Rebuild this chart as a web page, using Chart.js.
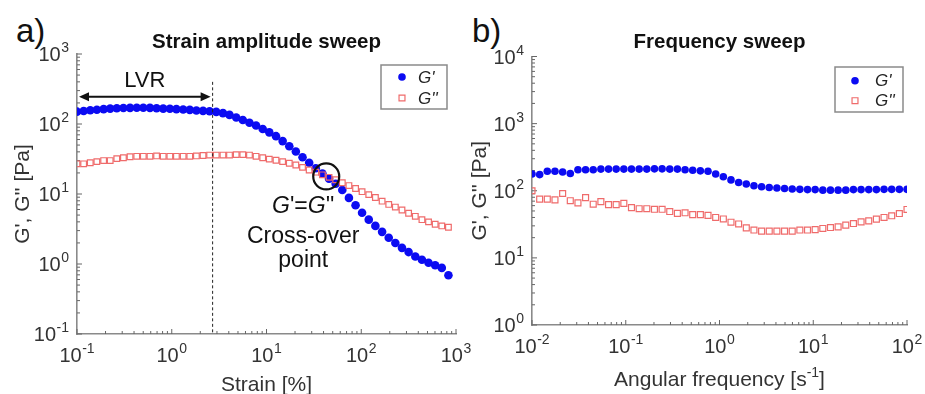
<!DOCTYPE html>
<html><head><meta charset="utf-8">
<script src="https://cdn.jsdelivr.net/npm/chart.js@4.4.1/dist/chart.umd.min.js"></script>
<style>
html,body{margin:0;padding:0;background:#fff;}
body{width:925px;height:394px;position:relative;overflow:hidden;font-family:"Liberation Sans",Arial,Helvetica,sans-serif;}
canvas{position:absolute;top:0;}
#cA{left:0;} #cB{left:460px;}
.pl{position:absolute;font-size:33px;line-height:33px;color:#111;}
</style></head><body>
<div class="pl" style="left:16px;top:14px">a)</div>
<div class="pl" style="left:472px;top:14px">b)</div>
<canvas id="cA" width="480" height="394"></canvas>
<canvas id="cB" width="465" height="394"></canvas>
<script>
const FONT = '"Liberation Sans", Arial, Helvetica, sans-serif';

// ---- Strain amplitude sweep ----
const strainX = [0.1, 0.1175, 0.138, 0.162, 0.191, 0.224, 0.263, 0.309, 0.363, 0.427, 0.501, 0.589, 0.692, 0.813, 0.955,
  1.12, 1.32, 1.55, 1.82, 2.14, 2.51, 2.95, 3.47, 4.07, 4.79, 5.62, 6.61, 7.76, 9.12, 10.7, 12.6, 14.8, 17.4, 20.4, 24.0,
  28.2, 33.1, 38.9, 45.7, 53.7, 63.1, 74.1, 87.1, 102, 120, 141, 166, 195, 229, 269, 316, 372, 437, 513, 603, 708, 832];
const strainGp = [150, 153, 157, 160, 163, 166, 168, 169, 170, 171, 171, 170, 168, 166, 165, 163, 161, 159, 156, 154,
  152, 149, 143, 135, 124, 114, 104, 95, 85, 76, 67, 57, 48, 40.5, 33.5, 28, 23.3, 19.6, 16.5, 14.0, 11.4, 8.8, 6.9,
  5.4, 4.3, 3.5, 2.88, 2.37, 2.0, 1.7, 1.48, 1.28, 1.15, 1.04, 0.96, 0.88, 0.69];
const strainGpp = [27, 27, 28, 29, 30, 30, 32, 33, 34, 34.5, 34.5, 34.5, 35, 34.5, 34.5, 34.5, 34.5, 34.5, 35, 35.5,
  36, 36, 36, 36, 36.5, 36.5, 36, 34.5, 33, 31.5, 30.3, 29, 27.5, 26, 24, 22, 20.5, 18.8, 17.3, 16, 14.5, 13.2, 12,
  10.8, 9.8, 8.9, 7.9, 7.1, 6.5, 5.9, 5.3, 4.8, 4.3, 4.0, 3.7, 3.5, 3.35];

// ---- Frequency sweep ----
const freqX = [0.01, 0.01207, 0.01456, 0.01758, 0.02122, 0.02561, 0.03091, 0.03728, 0.04498, 0.05429, 0.06551, 0.07906,
  0.09541, 0.1151, 0.1390, 0.1677, 0.2024, 0.2442, 0.2947, 0.3556, 0.4292, 0.5179, 0.6251, 0.7543, 0.9103, 1.099,
  1.326, 1.600, 1.931, 2.330, 2.812, 3.393, 4.095, 4.942, 5.964, 7.197, 8.685, 10.48, 12.65, 15.26, 18.42, 22.23,
  26.83, 32.37, 39.07, 47.15, 56.90, 68.66, 82.86, 100];
const freqGp = [178, 174, 195, 195, 190, 181, 205, 205, 205, 210, 210, 210, 210, 210, 210, 210, 212, 212, 210, 210,
  205, 202, 198, 195, 178, 162, 145, 133, 126, 119, 115, 112, 110, 108, 106, 105, 104, 104, 102, 102, 102, 102, 104,
  104, 104, 104, 105, 105, 105, 105];
const freqGpp = [100, 75, 75, 73, 91, 71, 66, 79, 63, 69, 62, 62, 65, 56, 54, 54, 53, 53, 49, 46, 47, 44, 44, 43, 40,
  38, 34, 32, 28, 26, 25, 25, 25, 25, 25, 26, 26, 26.4, 27.4, 28.3, 29, 30.7, 32.5, 34.4, 35.6, 37.8, 40, 42.4, 45.8, 52.6];

const seriesLabels = ["G'", "G''"];

// ---- Tick labels: base 10 with these exponents ----
const strainXTicks = [0.1, 1, 10, 100, 1000];
const strainXTickExps = ['-1', '0', '1', '2', '3'];
const strainYTicks = [0.1, 1, 10, 100, 1000];
const strainYTickExps = ['-1', '0', '1', '2', '3'];
const freqXTicks = [0.01, 0.1, 1, 10, 100];
const freqXTickExps = ['-2', '-1', '0', '1', '2'];
const freqYTicks = [1, 10, 100, 1000, 10000];
const freqYTickExps = ['0', '1', '2', '3', '4'];

// ---- Annotations (data coordinates) ----
const lvrLimit = 2.7;
const lvrArrowY = 245;
const lvrLineTop = 400;
const crossover = {x: 42.7, y: 17.8};

const BLUE = '#0b0bf2';
const PINK = '#ef6b6b';

function pts(xs, ys) { return xs.map((x, i) => ({x: x, y: ys[i]})); }
function logAxis(min, max, o) {
  return {
    type: 'logarithmic', min: min, max: max, position: o.position,
    grid: {display: false},
    border: {display: true, color: '#8a8a8a', width: 1.6},
    ticks: {display: false},
    title: {display: !!o.title, text: o.title || '', color: '#333', font: {family: FONT, size: 21, lineHeight: 1.2}, padding: o.titlePad || 0},
    afterFit: function (s) { if (o.position === 'left') s.width = o.size; else s.height = o.size; }
  };
}

const minorTicks = {
  id: 'minorTicks',
  beforeDatasetsDraw(chart) {
    const ctx = chart.ctx, ca = chart.chartArea;
    ctx.save(); ctx.strokeStyle = '#666'; ctx.lineWidth = 1;
    ['x', 'y'].forEach(id => {
      const s = chart.scales[id];
      const e0 = Math.round(Math.log10(s.min)), e1 = Math.round(Math.log10(s.max));
      for (let e = e0; e <= e1; e++) {
        for (let m = 1; m <= 9; m++) {
          const v = m * Math.pow(10, e);
          if (v > s.max * 1.0001) break;
          const p = s.getPixelForValue(v);
          const len = m === 1 ? 5 : 3;
          ctx.beginPath();
          if (id === 'x') { ctx.moveTo(p, ca.bottom); ctx.lineTo(p, ca.bottom - len); }
          else { ctx.moveTo(ca.left, p); ctx.lineTo(ca.left + len, p); }
          ctx.stroke();
        }
      }
    });
    ctx.restore();
  }
};

function drawPow(ctx, exp, x, y, align) {
  ctx.font = '20px ' + FONT; const wb = ctx.measureText('10').width;
  ctx.font = '14px ' + FONT; const we = ctx.measureText(exp).width;
  const w = wb + we + 0.5;
  const left = align === 'center' ? x - w / 2 : x - w;
  ctx.font = '20px ' + FONT; ctx.fillText('10', left, y);
  ctx.font = '14px ' + FONT; ctx.fillText(exp, left + wb + 0.5, y - 9);
}

const tickLabels = {
  id: 'tickLabels',
  afterDraw(chart, args, o) {
    const ctx = chart.ctx, ca = chart.chartArea;
    ctx.save(); ctx.fillStyle = '#333'; ctx.textBaseline = 'alphabetic'; ctx.textAlign = 'left';
    o.xValues.forEach((v, i) => drawPow(ctx, o.xExps[i], chart.scales.x.getPixelForValue(v), ca.bottom + 28, 'center'));
    o.yValues.forEach((v, i) => drawPow(ctx, o.yExps[i], ca.left - 8, chart.scales.y.getPixelForValue(v) + 7, 'right'));
    if (o.xTitleParts) {
      let w = 0;
      o.xTitleParts.forEach(p => { ctx.font = (p[1] ? '14px ' : '21px ') + FONT; w += ctx.measureText(p[0]).width; });
      let x = (ca.left + ca.right) / 2 - w / 2;
      o.xTitleParts.forEach(p => {
        ctx.font = (p[1] ? '14px ' : '21px ') + FONT;
        ctx.fillText(p[0], x, ca.bottom + o.xTitleBase - (p[1] ? 9 : 0));
        x += ctx.measureText(p[0]).width;
      });
    }
    ctx.restore();
  }
};

const boxLegend = {
  id: 'boxLegend',
  afterDraw(chart, args, o) {
    const ctx = chart.ctx, ca = chart.chartArea;
    const x0 = ca.right - o.right - o.w, y0 = ca.top + o.top;
    ctx.save();
    ctx.fillStyle = '#fff'; ctx.fillRect(x0, y0, o.w, o.h);
    ctx.strokeStyle = '#8a8a8a'; ctx.lineWidth = 1.5; ctx.strokeRect(x0, y0, o.w, o.h);
    chart.data.datasets.forEach((ds, i) => {
      const my = y0 + o.row0 + i * o.rowGap, mx = x0 + o.mx;
      ctx.beginPath();
      if (ds.pointStyle === 'circle') {
        ctx.arc(mx, my, o.r, 0, 2 * Math.PI); ctx.fillStyle = ds.backgroundColor; ctx.fill();
      } else {
        const h = o.r * 0.78; ctx.rect(mx - h, my - h, 2 * h, 2 * h);
        ctx.strokeStyle = ds.borderColor; ctx.lineWidth = ds.borderWidth; ctx.stroke();
      }
      ctx.fillStyle = '#222'; ctx.font = 'italic 17px ' + FONT;
      ctx.textBaseline = 'middle'; ctx.textAlign = 'left';
      ctx.fillText(ds.label, x0 + o.tx, my + 1);
    });
    ctx.restore();
  }
};

function drawMixed(ctx, parts, cx, y, size) {
  let w = 0;
  parts.forEach(p => { ctx.font = (p[1] ? 'italic ' : '') + size + 'px ' + FONT; w += ctx.measureText(p[0]).width; });
  let x = cx - w / 2;
  parts.forEach(p => {
    ctx.font = (p[1] ? 'italic ' : '') + size + 'px ' + FONT;
    ctx.fillText(p[0], x, y); x += ctx.measureText(p[0]).width;
  });
}

const strainNotes = {
  id: 'strainNotes',
  afterDatasetsDraw(chart) {
    const ctx = chart.ctx, xs = chart.scales.x, ys = chart.scales.y;
    const xl = xs.getPixelForValue(lvrLimit);
    ctx.save();
    ctx.strokeStyle = '#222'; ctx.lineWidth = 1; ctx.setLineDash([3, 2.5]);
    ctx.beginPath(); ctx.moveTo(xl, ys.getPixelForValue(lvrLineTop)); ctx.lineTo(xl, ys.bottom); ctx.stroke();
    ctx.setLineDash([]);
    const ay = ys.getPixelForValue(lvrArrowY);
    const x0 = xs.getPixelForValue(strainX[0]) + 2, x1 = xl - 2;
    ctx.strokeStyle = '#111'; ctx.fillStyle = '#111'; ctx.lineWidth = 2;
    ctx.beginPath(); ctx.moveTo(x0 + 6, ay); ctx.lineTo(x1 - 6, ay); ctx.stroke();
    ctx.beginPath(); ctx.moveTo(x0, ay); ctx.lineTo(x0 + 10, ay - 4.5); ctx.lineTo(x0 + 10, ay + 4.5); ctx.closePath(); ctx.fill();
    ctx.beginPath(); ctx.moveTo(x1, ay); ctx.lineTo(x1 - 10, ay - 4.5); ctx.lineTo(x1 - 10, ay + 4.5); ctx.closePath(); ctx.fill();
    ctx.font = '22px ' + FONT; ctx.textAlign = 'center'; ctx.textBaseline = 'alphabetic';
    ctx.fillText('LVR', xs.getPixelForValue(Math.sqrt(strainX[0] * lvrLimit)), ay - 10);
    const cx = xs.getPixelForValue(crossover.x), cy = ys.getPixelForValue(crossover.y);
    ctx.lineWidth = 2.2; ctx.strokeStyle = '#111';
    ctx.beginPath(); ctx.arc(cx, cy, 13, 0, 2 * Math.PI); ctx.stroke();
    ctx.textAlign = 'left';
    drawMixed(ctx, [['G', true], ["'=", false], ['G', true], ["''", false]], cx - 23, cy + 37, 23);
    ctx.textAlign = 'center'; ctx.font = '23px ' + FONT;
    ctx.fillText('Cross-over', cx - 23, cy + 67);
    ctx.fillText('point', cx - 23, cy + 91);
    ctx.restore();
  }
};

const titleFont = {family: FONT, size: 20.5, weight: 'bold', lineHeight: 1.2};

new Chart(document.getElementById('cA'), {
  type: 'scatter',
  data: {datasets: [
    {label: seriesLabels[0], data: pts(strainX, strainGp), pointStyle: 'circle', pointRadius: 4.3,
      backgroundColor: BLUE, borderColor: BLUE, borderWidth: 0, showLine: false, order: 1},
    {label: seriesLabels[1], data: pts(strainX, strainGpp), pointStyle: 'rect', pointRadius: 4.0,
      backgroundColor: 'rgba(255,255,255,0)', borderColor: PINK, borderWidth: 1.2, showLine: false, order: 0}
  ]},
  options: {
    responsive: false, animation: false, events: [],
    layout: {padding: {left: 0, right: 24, top: 0, bottom: 0}},
    scales: {
      x: logAxis(0.1, 1000, {position: 'bottom', size: 60, title: 'Strain [%]', titlePad: {top: 0, bottom: -3.6}}),
      y: logAxis(0.1, 1000, {position: 'left', size: 77, title: "G', G'' [Pa]", titlePad: {top: 10.4, bottom: 0}})
    },
    plugins: {
      legend: {display: false}, tooltip: {enabled: false},
      title: {display: true, text: 'Strain amplitude sweep', fullSize: false, color: '#111', font: titleFont, padding: {top: 30, bottom: -0.6}},
      boxLegend: {right: 9, w: 66, top: 11, h: 44, mx: 21, tx: 37, row0: 12, rowGap: 21, r: 3.8},
      tickLabels: {xValues: strainXTicks, xExps: strainXTickExps, yValues: strainYTicks, yExps: strainYTickExps}
    }
  },
  plugins: [minorTicks, strainNotes, boxLegend, tickLabels]
});

new Chart(document.getElementById('cB'), {
  type: 'scatter',
  data: {datasets: [
    {label: seriesLabels[0], data: pts(freqX, freqGp), pointStyle: 'circle', pointRadius: 3.8,
      backgroundColor: BLUE, borderColor: BLUE, borderWidth: 0, showLine: false, order: 1},
    {label: seriesLabels[1], data: pts(freqX, freqGpp), pointStyle: 'rect', pointRadius: 4.2,
      backgroundColor: 'rgba(255,255,255,0)', borderColor: PINK, borderWidth: 1.2, showLine: false, order: 0}
  ]},
  options: {
    responsive: false, animation: false, events: [],
    layout: {padding: {left: 0, right: 18, top: 0, bottom: 0}},
    scales: {
      x: logAxis(0.01, 100, {position: 'bottom', size: 69}),
      y: logAxis(1, 10000, {position: 'left', size: 72, title: "G', G'' [Pa]", titlePad: {top: 7.4, bottom: 0}})
    },
    plugins: {
      legend: {display: false}, tooltip: {enabled: false},
      title: {display: true, text: 'Frequency sweep', fullSize: false, color: '#111', font: titleFont, padding: {top: 30, bottom: 1.9}},
      boxLegend: {right: 4, w: 68, top: 10.5, h: 45, mx: 20, tx: 40, row0: 13.7, rowGap: 20, r: 3.8},
      tickLabels: {xValues: freqXTicks, xExps: freqXTickExps, yValues: freqYTicks, yExps: freqYTickExps,
        xTitleParts: [['Angular frequency [s', false], ['-1', true], [']', false]], xTitleBase: 61}
    }
  },
  plugins: [minorTicks, boxLegend, tickLabels]
});
</script>
</body></html>
